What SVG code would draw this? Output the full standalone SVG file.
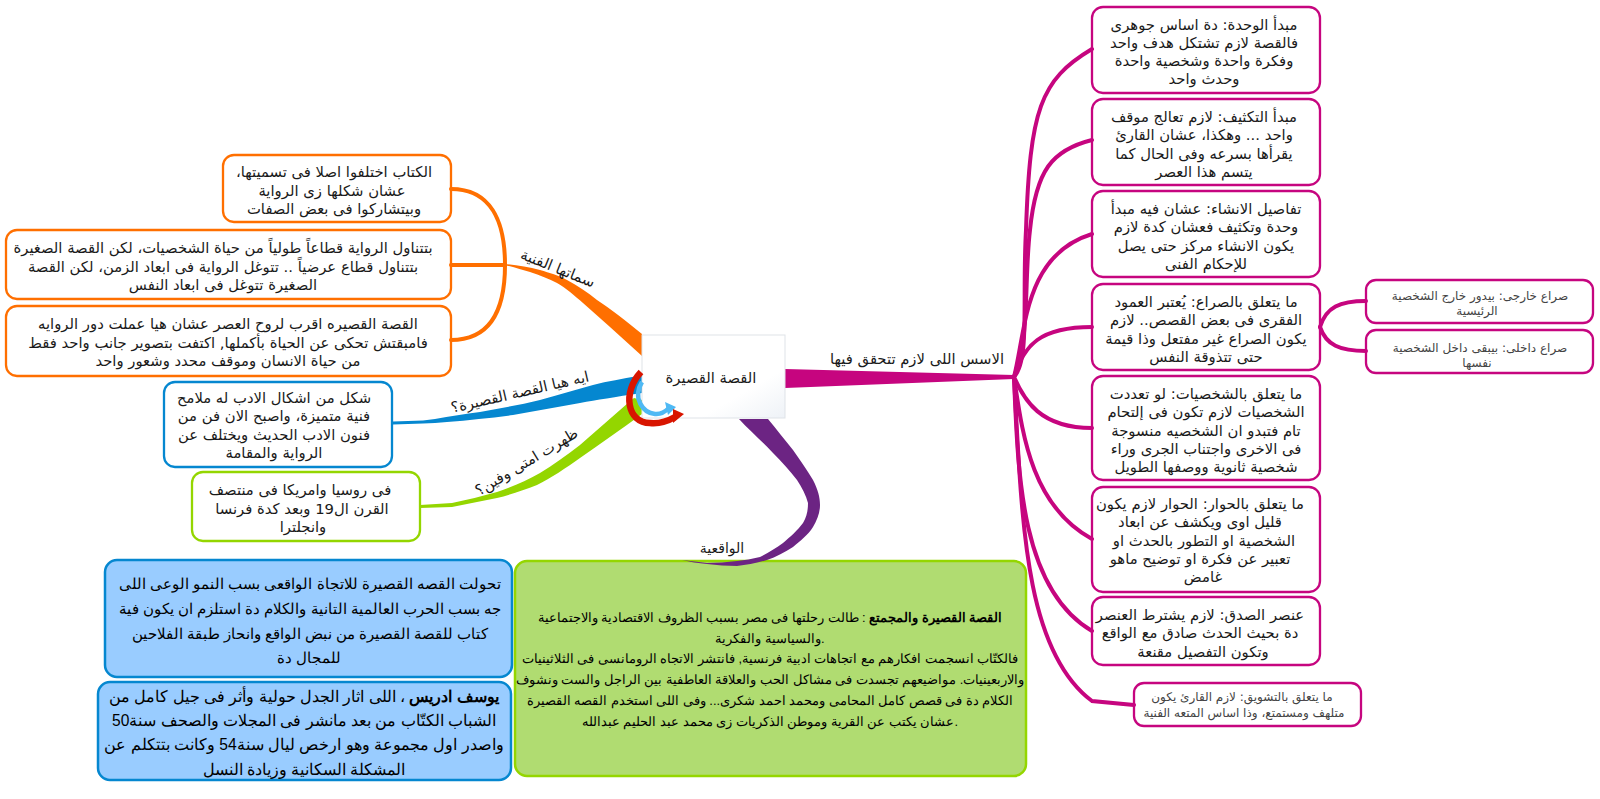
<svg xmlns="http://www.w3.org/2000/svg" width="1600" height="799" viewBox="0 0 1600 799">
<defs>
<linearGradient id="cg" x1="0" y1="0" x2="1" y2="1"><stop offset="0" stop-color="#ffffff"/><stop offset="0.7" stop-color="#ffffff"/><stop offset="1" stop-color="#eef2f7"/></linearGradient>
</defs>
<style>
text{direction:rtl;text-anchor:middle;fill:#1a1a1a;font-family:"DejaVu Sans","Noto Sans",sans-serif;font-size:14.8px}
.s{font-size:12px;fill:#444}
.a{font-family:"Liberation Sans","Noto Sans",sans-serif;font-size:14.8px;fill:#000}
.a2{font-size:15.6px}
.g{font-family:"Liberation Sans","Noto Sans",sans-serif;font-size:12.8px;fill:#000}
.l{font-size:14.8px;fill:#1a1a1a}
.box{fill:#fff;stroke-width:2.3}
.m{stroke:#c6057f}.o{stroke:#ff6f00}
.w{fill:none;stroke-linecap:round}
.pk{stroke:#c6057f;stroke-width:4}
.or{stroke:#ff6f00;stroke-width:4}
.b{font-weight:bold}
</style>
<g id="n1"><rect class="box m" x="1092" y="7" width="228" height="86" rx="11"/><text><tspan x="1204" y="30">مبدأ الوحدة: دة اساس جوهرى</tspan><tspan x="1204" y="48">فالقصة لازم تشتكل هدف واحد</tspan><tspan x="1204" y="66">وفكرة واحدة وشخصية واحدة</tspan><tspan x="1204" y="84">وحدث واحد</tspan></text></g>
<g id="n2"><rect class="box m" x="1092" y="99" width="228" height="86" rx="11"/><text><tspan x="1204" y="122">مبدأ التكثيف: لازم تعالج موقف</tspan><tspan x="1204" y="140">واحد ... وهكذا، عشان القارئ</tspan><tspan x="1204" y="159">يقرأها بسرعه وفى الحال كما</tspan><tspan x="1204" y="177">يتسم هذا العصر</tspan></text></g>
<g id="n3"><rect class="box m" x="1092" y="191" width="228" height="86" rx="11"/><text><tspan x="1206" y="214">تفاصيل الانشاء: عشان فيه مبدأ</tspan><tspan x="1206" y="232">وحدة وتكثيف فعشان كدة لازم</tspan><tspan x="1206" y="251">يكون الانشاء مركز حتى يصل</tspan><tspan x="1206" y="269">للإحكام الفنى</tspan></text></g>
<g id="n4"><rect class="box m" x="1092" y="284" width="228" height="86" rx="11"/><text><tspan x="1206" y="307">ما يتعلق بالصراع: يُعتبر العمود</tspan><tspan x="1206" y="325">الفقرى فى بعض القصص.. لازم</tspan><tspan x="1206" y="344">يكون الصراع غير مفتعل وذا قيمة</tspan><tspan x="1206" y="362">حتى تتذوقة النفس</tspan></text></g>
<g id="n5"><rect class="box m" x="1092" y="376" width="228" height="104" rx="11"/><text><tspan x="1206" y="399">ما يتعلق بالشخصيات: لو تعددت</tspan><tspan x="1206" y="417">الشخصيات لازم تكون فى إلتحام</tspan><tspan x="1206" y="436">تام فتبدو ان الشخصيه منسوجة</tspan><tspan x="1206" y="454">فى الاخرى واجتناب الجرى وراء</tspan><tspan x="1206" y="472">شخصية ثانوية ووصفها الطويل</tspan></text></g>
<g id="n6"><rect class="box m" x="1092" y="487" width="228" height="105" rx="11"/><text><tspan x="1200" y="509">ما يتعلق بالحوار: الحوار لازم يكون</tspan><tspan x="1200" y="527">قليل اوى ويكشف عن ابعاد</tspan><tspan x="1204" y="546">الشخصية او التطور بالحدث او</tspan><tspan x="1200" y="564">تعبير عن فكرة او توضيح ماهو</tspan><tspan x="1203" y="582">غامض</tspan></text></g>
<g id="n7"><rect class="box m" x="1092" y="597" width="228" height="68" rx="11"/><text><tspan x="1200" y="620">عنصر الصدق: لازم يشترط العنصر</tspan><tspan x="1200" y="638">دة بحيث الحدث صادق مع الواقع</tspan><tspan x="1203" y="657">وتكون التفصيل مقنعة</tspan></text></g>
<g id="n8"><rect class="box m" x="1134" y="683" width="227" height="43" rx="10"/><text class="s"><tspan x="1242" y="701">ما يتعلق بالتشويق: لازم القارئ يكون</tspan><tspan x="1244" y="717">متلهف ومستمتع، وذا اساس المتعه الفنية</tspan></text></g>
<g id="n9"><rect class="box m" x="1366" y="280" width="227" height="43" rx="10"/><text class="s"><tspan x="1480" y="300">صراع خارجى: بيدور خارج الشخصية</tspan><tspan x="1477" y="315">الرئيسية</tspan></text></g>
<g id="n10"><rect class="box m" x="1366" y="330" width="227" height="43" rx="10"/><text class="s"><tspan x="1480" y="352">صراع داخلى: بيبقى داخل الشخصية</tspan><tspan x="1477" y="367">نفسها</tspan></text></g>
<g id="a1"><rect class="box o" x="223" y="155" width="228" height="67" rx="11"/><text><tspan x="334" y="177">الكتاب اختلفوا اصلا فى تسميتها،</tspan><tspan x="332" y="196">عشان شكلها زى الرواية</tspan><tspan x="334" y="214">وبيتشاركوا فى بعض الصفات</tspan></text></g>
<g id="a2"><rect class="box o" x="6" y="230" width="445" height="69" rx="11"/><text><tspan x="223" y="253">بتتناول الرواية قطاعاً طولياً من حياة الشخصيات، لكن القصة الصغيرة</tspan><tspan x="223" y="272">بتتناول قطاع عرضياً .. تتوغل الرواية فى ابعاد الزمن، لكن القصة</tspan><tspan x="223" y="290">الصغيرة تتوغل فى ابعاد النفس</tspan></text></g>
<g id="a3"><rect class="box o" x="6" y="306" width="445" height="70" rx="11"/><text><tspan x="228" y="329">القصة القصيره اقرب لروح العصر عشان هيا عملت دور الروايه</tspan><tspan x="228" y="348">فامبقتش تحكى عن الحياة بأكملها, اكتفت بتصوير جانب واحد فقط</tspan><tspan x="228" y="366">من حياة الانسان وموقف محدد وشعور واحد</tspan></text></g>
<g id="b1"><rect class="box" stroke="#0587d0" x="164" y="382" width="228" height="85" rx="11"/><text><tspan x="274" y="403">شكل من اشكال الادب له ملامح</tspan><tspan x="274" y="421">فنية متميزة، واصبح الان فن من</tspan><tspan x="274" y="440">فنون الادب الحديث ويختلف عن</tspan><tspan x="274" y="458">الرواية والمقامة</tspan></text></g>
<g id="c1"><rect class="box" stroke="#94d600" x="192" y="472" width="228" height="69" rx="11"/><text><tspan x="300" y="495">فى روسيا وامريكا فى منتصف</tspan><tspan x="302" y="514">القرن ال19  وبعد كدة فرنسا</tspan><tspan x="303" y="532">وانجلترا</tspan></text></g>
<g id="d1"><rect x="105" y="560" width="407" height="117" rx="12" fill="#99ccff" stroke="#0587d0" stroke-width="2.5"/><text class="a"><tspan x="310" y="589">تحولت القصه القصيرة للاتجاة الواقعى بسب النمو الوعى اللى</tspan><tspan x="310" y="614">جه بسب الحرب العالمية التانية والكلام دة استلزم ان يكون فية</tspan><tspan x="310" y="639">كتاب للقصة القصيرة من نبض الواقع وانحاز طبقة الفلاحين</tspan><tspan x="309" y="663">للمجال دة</tspan></text></g>
<g id="d2"><rect x="98" y="682" width="413" height="98" rx="12" fill="#99ccff" stroke="#0587d0" stroke-width="2.5"/><text class="a a2"><tspan x="304" y="702"><tspan class="b">يوسف ادريس</tspan> ، اللى اثار الجدل حولية وأثر فى جيل كامل من</tspan><tspan x="304" y="726">الشباب الكتّاب من بعد مانشر فى المجلات والصحف سنة50</tspan><tspan x="304" y="750">واصدر اول مجموعة وهو ارخص ليال سنة54  وكانت بتتكلم عن</tspan><tspan x="304" y="775">المشكلة السكانية وزيادة النسل</tspan></text></g>
<g id="e1"><rect x="515" y="561" width="511" height="215" rx="12" fill="#b0dc71" stroke="#94d600" stroke-width="2.5"/><text class="g"><tspan x="770" y="622"><tspan class="b">القصة القصيرة والمجمتع</tspan> : طالت رحلتها فى مصر بسبب الظروف الاقتصادية والاجتماعية</tspan><tspan x="770" y="643">.والسياسية والفكرية</tspan><tspan x="770" y="663">فالكتّاب انسجمت افكارهم مع اتجاهات ادبية فرنسية, فانتشر الاتجاه الرومانسى فى الثلاثينيات</tspan><tspan x="770" y="684">والاربعينيات. مواضيعهم تجسدت فى مشاكل الحب والعلاقة العاطفية بين الراجل والست ونشوف</tspan><tspan x="770" y="705">الكلام دة فى قصص كامل المحامى ومحمد احمد شكرى... وفى اللى استخدم القصه القصيرة</tspan><tspan x="770" y="726">.عشان يكتب عن القرية وموطن الذكريات زى محمد عبد الحليم عبدالله</tspan></text></g>
<g id="connectors">
<path fill="#c6057f" d="M785 369 L1014 375 V379 L785 388Z"/>
<g class="w pk">
<path d="M1014 377C1030 360 1022 300 1026 230C1030 110 1040 80 1092 49"/>
<path d="M1014 377C1030 340 1024 280 1030 230C1036 170 1052 150 1092 140"/>
<path d="M1014 377C1026 330 1024 255 1092 234"/>
<path d="M1014 377C1024 345 1040 327 1092 327"/>
<path d="M1014 377C1024 400 1040 428 1092 428"/>
<path d="M1014 377C1022 430 1030 505 1092 539"/>
<path d="M1014 377C1018 480 1022 590 1092 631"/>
<path d="M1014 377C1022 520 1024 650 1092 701L1134 705"/>
<path d="M1320 327C1326 307 1340 301 1366 301"/>
<path d="M1320 327C1326 345 1340 351 1366 351"/>
</g>
<path fill="#ff6f00" d="M642 334C625 320 612 310 597 300C587 292 578 286 567 280C558 275 550 273 540 270C528 267 516 265 504 264V265C514 267 522 270 530 272C540 275 549 279 557 283C566 288 575 296 583 303L610 327L642 356Z"/>
<g class="w or">
<path d="M505 265C505 220 490 189 451 189"/>
<path d="M505 265H451"/>
<path d="M505 265C505 310 490 340 451 340"/>
</g>
<path fill="#0587d0" d="M642 375L638 376C622 379 608 381 593 385C575 390 558 395 540 400C520 405 500 408 480 412C465 414 450 416 435 419L423 420.500L393 421.500V424.500L423 423.500C431 423 439 423 447 422C470 420 491 418 513 415C535 411 558 407 580 403C597 400 614 397 642 393Z"/>
<path fill="#94d600" d="M634 398L628 403C612 417 596 431 580 445C567 455 553 465 540 473C526 481 511 487 497 492C482 496 467 500 452 503L420 505V508L452 507C467 504 482 501 497 498C510 495 524 490 537 485C551 478 566 468 580 458C600 444 620 430 642 414L642 400Z"/>
<path fill="#6c2483" d="M739 419H768C777 430 785 440 793 450C800 460 807 470 813 480C818 490 820 497 820 505C820 513 817 520 813 527C808 535 800 541 793 547C785 552 776 557 767 560C757 563 747 565 737 566C727 566 717 565 707 564C698 563 690 562 682 560C690 561 699 562 707 563C717 563 727 562 737 561C745 560 752 559 760 557C768 553 776 548 783 543C790 537 798 530 803 523C807 516 808 510 808 503C806 495 802 488 797 480C790 471 782 462 773 453C762 441 750 431 739 419Z"/>
</g>
<g id="center">
<rect x="642" y="335" width="143" height="83" fill="url(#cg)" stroke="#dfe3e8" stroke-width="1"/>
<path d="M642 382C632 398 643 413 655 414C660 414.500 665 412 669 408" fill="none" stroke="#4fb9f4" stroke-width="4.500"/>
<path d="M665 402l11 5-8 8z" fill="#4fb9f4"/>
<path d="M641 372C622 392 627 423 650 423C660 424 668 421 675 417" fill="none" stroke="#d81500" stroke-width="6.500"/>
<path d="M673 409l11 5-11 9z" fill="#d81500"/>
<text x="711" y="383">القصة القصيرة</text>
</g>
<text class="l" x="917" y="364">الاسس اللى لازم تتحقق فيها</text>
<text class="l" transform="translate(556 273) rotate(22)" x="0" y="0">سماتها الفنية</text>
<text class="l" transform="translate(521 397) rotate(-13)" x="0" y="0">ايه هيا القصة القصيرة؟</text>
<text class="l" transform="translate(529 466) rotate(-31)" x="0" y="0">ظهرت امتى وفين؟</text>
<text class="l" x="722" y="553" style="font-size:14px">الواقعية</text>
</svg>
